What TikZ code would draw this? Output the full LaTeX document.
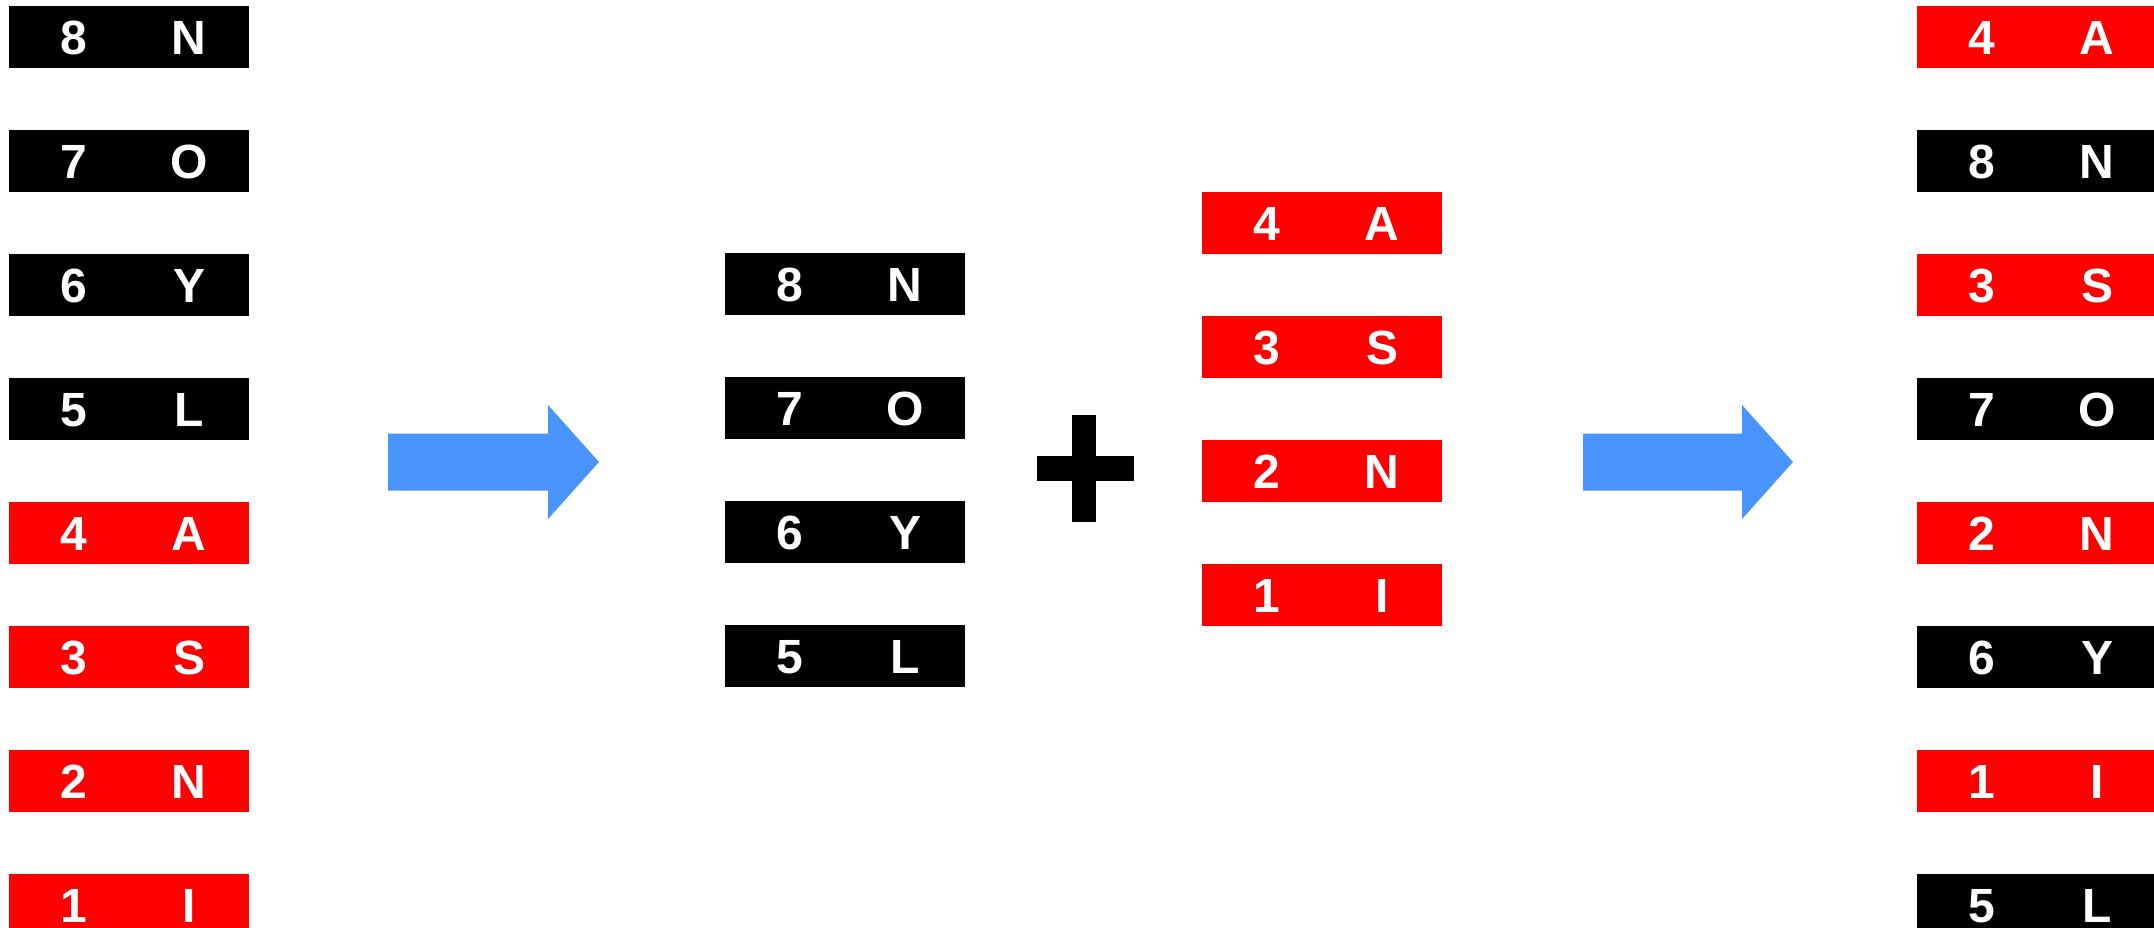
\documentclass[tikz,border=0pt]{standalone}
\usepackage{fontspec}
\setmainfont{Liberation Sans}
\usetikzlibrary{positioning}
\definecolor{keyred}{HTML}{FF0000}
\definecolor{flowblue}{HTML}{4A94FF}
\newcommand{\kv}[2]{\makebox[120pt]{#1}\makebox[110pt]{#2}\hspace{10pt}}

\begin{document}
\begin{tikzpicture}[x=1pt, y=-1pt,
  cell/.style     = {fill=#1, text=white, font=\fontsize{48}{54}\selectfont\bfseries,
                     inner sep=0pt, minimum width=240pt, minimum height=62pt,
                     text height=35pt, text depth=0pt},
  fatarrow/.style = {fill=flowblue},
  node distance = 61.6pt,
]
\useasboundingbox (0,0) rectangle (2154,928);

% input list
\node[cell=black, anchor=north west] (l1) at (9,6) {\kv{8}{N}};
\node[cell=black, below=of l1] (l2) {\kv{7}{O}};
\node[cell=black, below=of l2] (l3) {\kv{6}{Y}};
\node[cell=black, below=of l3] (l4) {\kv{5}{L}};
\node[cell=keyred, below=of l4] (l5) {\kv{4}{A}};
\node[cell=keyred, below=of l5] (l6) {\kv{3}{S}};
\node[cell=keyred, below=of l6] (l7) {\kv{2}{N}};
\node[cell=keyred, below=of l7] (l8) {\kv{1}{I}};

% split: black half
\node[cell=black, anchor=north west] (m1) at (725,253.2) {\kv{8}{N}};
\node[cell=black, below=of m1] (m2) {\kv{7}{O}};
\node[cell=black, below=of m2] (m3) {\kv{6}{Y}};
\node[cell=black, below=of m3] (m4) {\kv{5}{L}};

% split: red half
\node[cell=keyred, anchor=north west] (r1) at (1202,191.4) {\kv{4}{A}};
\node[cell=keyred, below=of r1] (r2) {\kv{3}{S}};
\node[cell=keyred, below=of r2] (r3) {\kv{2}{N}};
\node[cell=keyred, below=of r3] (r4) {\kv{1}{I}};

% interleaved result
\node[cell=keyred, anchor=north west] (o1) at (1917,6) {\kv{4}{A}};
\node[cell=black, below=of o1] (o2) {\kv{8}{N}};
\node[cell=keyred, below=of o2] (o3) {\kv{3}{S}};
\node[cell=black, below=of o3] (o4) {\kv{7}{O}};
\node[cell=keyred, below=of o4] (o5) {\kv{2}{N}};
\node[cell=black, below=of o5] (o6) {\kv{6}{Y}};
\node[cell=keyred, below=of o6] (o7) {\kv{1}{I}};
\node[cell=black, below=of o7] (o8) {\kv{5}{L}};

% block arrows and plus
\coordinate (a1) at (388,462);
\coordinate (a2) at (1583,462);
\fill[fatarrow] (a1) ++(0,-28.5) -- ++(160,0) -- ++(0,-28.5) -- ++(51,57)
  -- ++(-51,57) -- ++(0,-28.5) -- ++(-160,0) -- cycle;
\fill[fatarrow] (a2) ++(0,-28.5) -- ++(159,0) -- ++(0,-28.5) -- ++(51,57)
  -- ++(-51,57) -- ++(0,-28.5) -- ++(-159,0) -- cycle;
\fill (1072,415) rectangle (1096,522);
\fill (1037,456) rectangle (1134,481);
\end{tikzpicture}
\end{document}
